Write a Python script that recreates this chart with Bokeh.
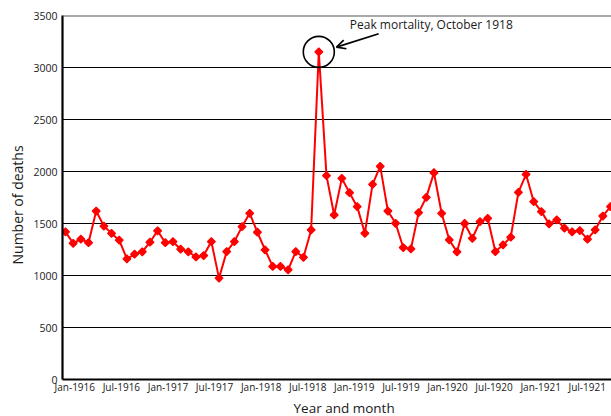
import math
from bokeh.plotting import figure
from bokeh.models import (Range1d, FixedTicker, CustomJSTickFormatter, Span, Label,
                          Arrow, OpenHead, ColumnDataSource, Title)
from bokeh.embed import file_html
from bokeh.resources import INLINE

# Monthly deaths, Jan-1916 .. Dec-1921
deaths_1916 = [1420, 1310, 1350, 1315, 1620, 1475, 1405, 1340, 1160, 1205, 1228, 1320]
deaths_1917 = [1430, 1315, 1325, 1253, 1228, 1178, 1192, 1326, 975, 1230, 1326, 1470]
deaths_1918 = [1598, 1416, 1246, 1087, 1087, 1055, 1230, 1175, 1438, 3150, 1960, 1582]
deaths_1919 = [1934, 1796, 1662, 1406, 1876, 2050, 1620, 1502, 1269, 1256, 1604, 1751]
deaths_1920 = [1988, 1598, 1342, 1227, 1500, 1358, 1518, 1550, 1230, 1294, 1368, 1799]
deaths_1921 = [1972, 1710, 1614, 1496, 1534, 1455, 1419, 1432, 1349, 1438, 1572, 1662]
deaths = deaths_1916 + deaths_1917 + deaths_1918 + deaths_1919 + deaths_1920 + deaths_1921
month_index = list(range(len(deaths)))

tick_labels = ["Jan-1916", "Jul-1916", "Jan-1917", "Jul-1917", "Jan-1918", "Jul-1918",
               "Jan-1919", "Jul-1919", "Jan-1920", "Jul-1920", "Jan-1921", "Jul-1921"]
y_ticks = [0, 500, 1000, 1500, 2000, 2500, 3000, 3500]

peak_label = "Peak mortality, October 1918"
peak_i = deaths.index(max(deaths))

FONT = "Open Sans"
TXT = "#1a1a1a"

p = figure(width=611, height=416, output_backend="svg", toolbar_location=None,
           x_range=Range1d(-0.39, 71.13), y_range=Range1d(0, 3500),
           min_border_left=62, min_border_right=0, min_border_top=15, min_border_bottom=36)
p.outline_line_color = None
p.background_fill_color = "white"
p.border_fill_color = "white"

# axes
p.xaxis.ticker = FixedTicker(ticks=[1.21 + 6.069 * k for k in range(len(tick_labels))])
p.xaxis.formatter = CustomJSTickFormatter(args=dict(labels=tick_labels), code="""
    const k = Math.round((tick - 1.21) / 6.069);
    return (k >= 0 && k < labels.length) ? labels[k] : '';
""")
p.yaxis.ticker = FixedTicker(ticks=y_ticks)
for ax in (p.xaxis, p.yaxis):
    ax.major_tick_line_color = None
    ax.minor_tick_line_color = None
    ax.major_tick_out = 0
    ax.major_tick_in = 0
    ax.minor_tick_out = 0
    ax.minor_tick_in = 0
    ax.major_label_text_font = FONT
    ax.major_label_text_color = TXT
    ax.axis_line_color = "black"
    ax.axis_line_width = 2.2
p.xaxis.major_label_text_font_size = "10px"
p.yaxis.major_label_text_font_size = "10.5px"
p.xaxis.major_label_standoff = 0
p.yaxis.major_label_standoff = 5

p.xgrid.grid_line_color = None
p.ygrid.ticker = FixedTicker(ticks=y_ticks[1:-1])
p.ygrid.grid_line_color = "black"
p.ygrid.grid_line_width = 1.1
p.add_layout(Span(location=3500, dimension="width", line_color="#555555", line_width=2.2))

# series
src = ColumnDataSource(dict(x=month_index, y=deaths))
p.line("x", "y", source=src, line_color="#ff0000", line_width=2)
p.scatter("x", "y", source=src, marker="square", angle=math.pi / 4, size=5.6,
          fill_color="#ff0000", line_color="#ff0000", line_width=1.2)

# annotation
p.scatter([peak_i], [deaths[peak_i]], marker="circle", size=31, fill_color=None,
          line_color="black", line_width=1.6)
p.add_layout(Arrow(end=OpenHead(size=9, line_color="black", line_width=1.6),
                   x_start=40.8, y_start=3325, x_end=35.3, y_end=3196,
                   line_color="black", line_width=1.6))
p.add_layout(Label(x=37.04, y=3414, text=peak_label, text_font=FONT, text_font_size="12px",
                   text_color=TXT, text_align="left", text_baseline="middle"))

# axis titles
p.add_layout(Title(text="Year and month", align="left", offset=231, standoff=0,
                   text_font=FONT, text_font_size="13.5px", text_font_style="normal",
                   text_color=TXT), "below")
p.add_layout(Title(text="Number of deaths", align="left", offset=115, standoff=8,
                   text_font=FONT, text_font_size="14px", text_font_style="normal",
                   text_color=TXT), "left")

open("out.html", "w").write(file_html(p, INLINE))
